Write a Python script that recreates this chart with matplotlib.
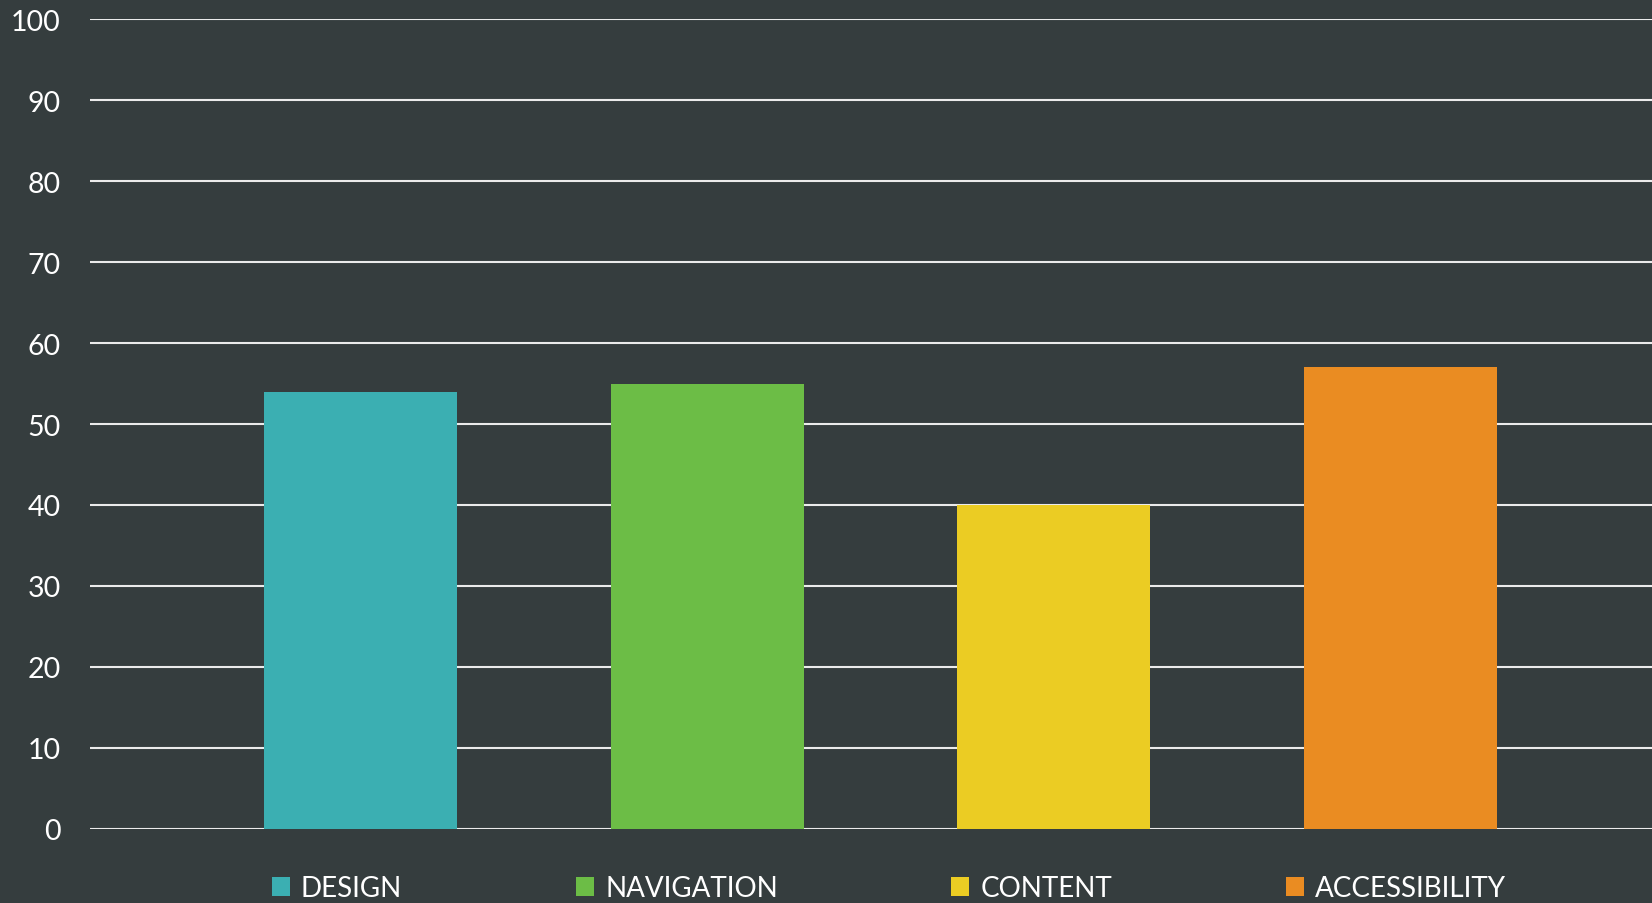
import matplotlib
matplotlib.use("Agg")
import matplotlib.pyplot as plt
from matplotlib.patches import Patch

categories = ["DESIGN", "NAVIGATION", "CONTENT", "ACCESSIBILITY"]
values = [54, 55, 40, 57]
colors = ["#3bafb2", "#6cbd46", "#ebcc23", "#ea8c22"]
yticks = [0, 10, 20, 30, 40, 50, 60, 70, 80, 90, 100]

BG = "#353d3e"
W, H = 1652, 904
fig = plt.figure(figsize=(W / 100, H / 100), dpi=100, facecolor=BG)
plt.rcParams['font.family'] = ['Lato', 'DejaVu Sans']

left, right = 90 / W, 1.0
top, bottom = 1 - 20.3 / H, 1 - 829.8 / H
ax = fig.add_axes([left, bottom, right - left, top - bottom])
ax.set_facecolor(BG)

x = list(range(len(categories)))
ax.bar(x, values, width=0.557, color=colors, zorder=3)

ax.set_ylim(0, 100)
ax.set_xlim(-0.782, 3.726)
ax.set_yticks(yticks)
ax.set_yticklabels([str(v) for v in yticks])
ax.set_xticks([])
ax.yaxis.grid(True, color="#ebebeb", linewidth=1.5, zorder=1)
ax.set_axisbelow(True)
ax.tick_params(axis="y", length=0, pad=21, labelsize=20.5, labelcolor="white")
for s in ax.spines.values():
    s.set_visible(False)

handles = [Patch(facecolor=c, edgecolor="none", label=l) for c, l in zip(colors, categories)]
leg = fig.legend(handles=handles, loc="center", bbox_to_anchor=(889 / W, 1 - 889.5 / H),
                 ncol=4, frameon=False, fontsize=20, labelcolor="white",
                 handlelength=0.65, handleheight=0.65, handletextpad=0.4,
                 columnspacing=6.25, borderpad=0, borderaxespad=0)

fig.savefig("out.png", dpi=100, facecolor=BG)
